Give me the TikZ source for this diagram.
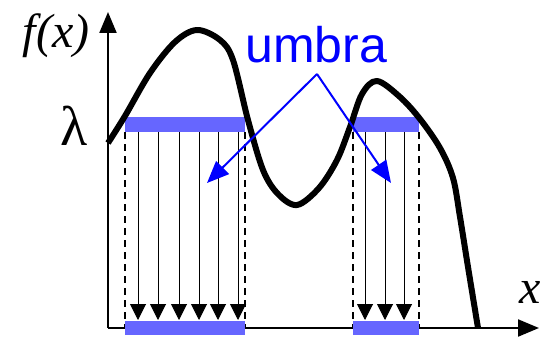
\documentclass[tikz,border=0pt]{standalone}
\usepackage{fontspec}
\setmainfont{Liberation Serif}
\newfontfamily\sansf{Liberation Sans}
\usetikzlibrary{arrows.meta}
\definecolor{barblue}{RGB}{102,102,255}
\definecolor{pureblue}{RGB}{0,0,255}
\begin{document}
\begin{tikzpicture}[x=1pt,y=-1pt,
  bar/.style={fill=barblue,draw=none,inner sep=0pt},
  dashline/.style={line width=1.6pt,dash pattern=on 7pt off 5pt},
  downarrow/.style={line width=1pt,-{Triangle[length=16pt,width=16pt]}},
  axisline/.style={line width=2.2pt,-{Triangle[length=21pt,width=17pt]}},
  curveline/.style={line width=6pt,line join=round},
  pointer/.style={pureblue,line width=2pt,-{Triangle[length=22pt,width=18pt]}},
  lbl/.style={inner sep=0pt,font=\fontsize{48}{50}\selectfont}]
\useasboundingbox (0,0) rectangle (540,345);
% dashed edges
\foreach \xx in {125,245,353,419}
  \draw[dashline] (\xx,132) -- (\xx,328);
% vertical arrows
\foreach \xx in {138,158,179,199,218,238,365,385,404}
  \draw[downarrow] (\xx,132) -- (\xx,320);
% axes
\coordinate (O) at (108,328);
\coordinate (ytip) at (108,12);
\coordinate (xtip) at (539,328);
\draw[axisline] (O) -- (ytip);
\draw[axisline] (O) -- (xtip);
% bars
\node[bar,minimum width=120pt,minimum height=15pt] (top1) at (185,124.5) {};
\node[bar,minimum width=120pt,minimum height=14pt] (bot1) at (185,328) {};
\node[bar,minimum width=66pt,minimum height=15pt] (top2) at (386,124.5) {};
\node[bar,minimum width=66pt,minimum height=14pt] (bot2) at (386,328) {};
% curve
\draw[curveline] plot[smooth,tension=0.55] coordinates {
 (108,143) (125,116) (150,73) (175,42) (197,30) (220,40) (233,60)
 (248,120) (263,170) (278,194) (297,205) (319,188) (337,160) (350,127)
 (362,94) (377,81) (400,97) (420,119) (440,148) (453,178) (460,217)
 (468,267) (478,328)};
% labels
\node[lbl,anchor=center] (fx) at (56,36) {\itshape f(x)};
\node[lbl,anchor=center,font=\fontsize{56}{58}\selectfont] (lam) at (74,126) {λ};
\node[lbl,anchor=center] (xl) at (530,292) {\itshape x};
\node[inner sep=0pt,anchor=base west,text=pureblue,font=\sansf\fontsize{50}{52}\selectfont] (umbra) at (245,63) {umbra};
% pointers
\coordinate (v) at (317,74);
\coordinate (p1) at (207,183);
\coordinate (p2) at (391,183);
\draw[pointer] (v) -- (p1);
\draw[pointer] (v) -- (p2);
\end{tikzpicture}
\end{document}
